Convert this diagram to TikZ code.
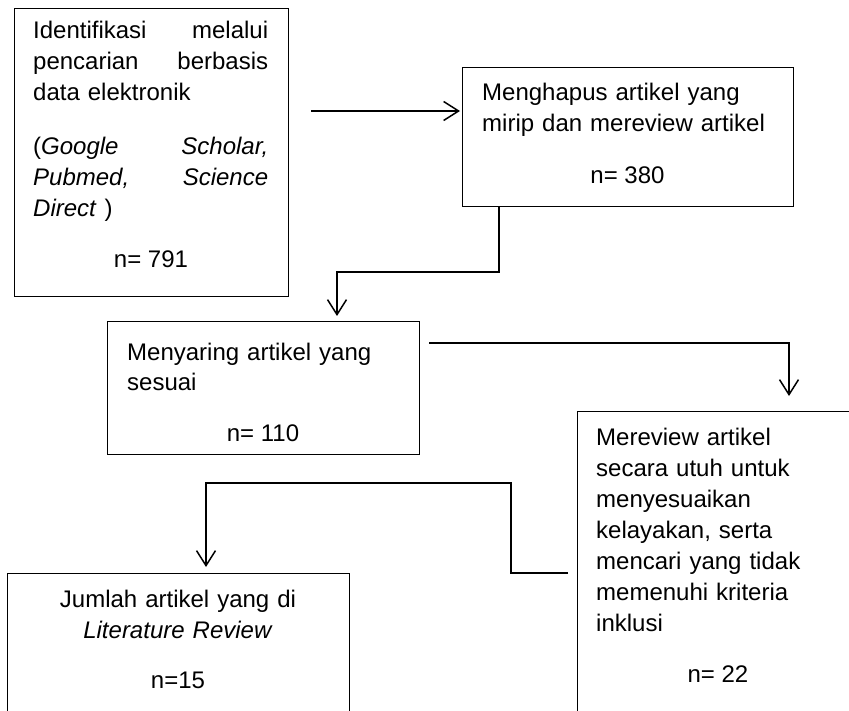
\documentclass[tikz,border=0pt]{standalone}
\usepackage{fontspec}
\setmainfont{Liberation Sans}
\usetikzlibrary{arrows.meta}
\newcommand{\fsz}{\fontsize{24}{31}\selectfont}
\tikzset{
  box/.style={draw=black, line width=1pt, inner sep=0pt, anchor=north west},
  conn/.style={draw=black, line width=1.5pt, -{Straight Barb[length=15pt,width=19pt,line width=1.5pt]}},
  txt/.style={font=\fsz, inner sep=0pt, anchor=base west, align=left, text width=#1},
  txt/.default=300pt,
  num/.style={font=\fsz, inner sep=0pt, anchor=base}
}
\begin{document}
\begin{tikzpicture}[x=1pt,y=-1pt]
\useasboundingbox (0,0) rectangle (849,711);
\fill[white] (0,0) rectangle (849,711);
\clip (0,0) rectangle (849,711);
% boxes
\node[box, minimum width=274pt, minimum height=288pt] (b1) at (14,8) {};
\node[box, minimum width=331pt, minimum height=139pt] (b2) at (462,67) {};
\node[box, minimum width=312pt, minimum height=133pt] (b3) at (107,321) {};
\node[box, minimum width=320pt, minimum height=360pt] (b4) at (577,411) {};
\node[box, minimum width=342pt, minimum height=200pt] (b5) at (7,573) {};
% texts
\node[txt=235pt] (t1a) at (33,39) {Identifikasi\hfill melalui\\ pencarian\hfill berbasis\\ data elektronik};
\node[txt=235pt] (t1b) at (33,155) {(\textit{Google}\hfill\textit{Scholar,}\\ \textit{Pubmed,}\hfill\textit{Science}\\ \textit{Direct} )};
\node[num] (n1) at (151,268) {n= 791};
\node[txt] (t2) at (482,101) {Menghapus artikel yang\\ mirip dan mereview artikel};
\node[num] (n2) at (627.5,184) {n= 380};
\node[txt] (t3) at (127,360) {Menyaring artikel yang\\ sesuai};
\node[num] (n3) at (263,441) {n= 110};
\node[txt=240pt] (t4) at (596,445) {Mereview artikel\\ secara utuh untuk\\ menyesuaikan\\ kelayakan, serta\\ mencari yang tidak\\ memenuhi kriteria\\ inklusi};
\node[num] (n4) at (718,682) {n= 22};
\node[num, text width=330pt, align=center] (t5) at (178,607) {Jumlah artikel yang di\\ \textit{Literature Review}};
\node[num] (n5) at (178,688) {n=15};
% connectors
\coordinate (s1) at (311,111);
\draw[conn, shorten >=2pt] (s1) -- (s1 -| b2.west);
\draw[conn, shorten >=5pt] ([xshift=37pt]b2.south west) -- ++(0,65) -| ([xshift=230pt]b3.north west);
\coordinate (s3) at (429,343);
\draw[conn, shorten >=15pt] (s3) -| ([xshift=212pt]b4.north west);
\coordinate (s4) at (568,573);
\draw[conn, shorten >=6pt] (s4) -- (511,573) -- (511,483) -| ([xshift=199pt]b5.north west);
\end{tikzpicture}
\end{document}
